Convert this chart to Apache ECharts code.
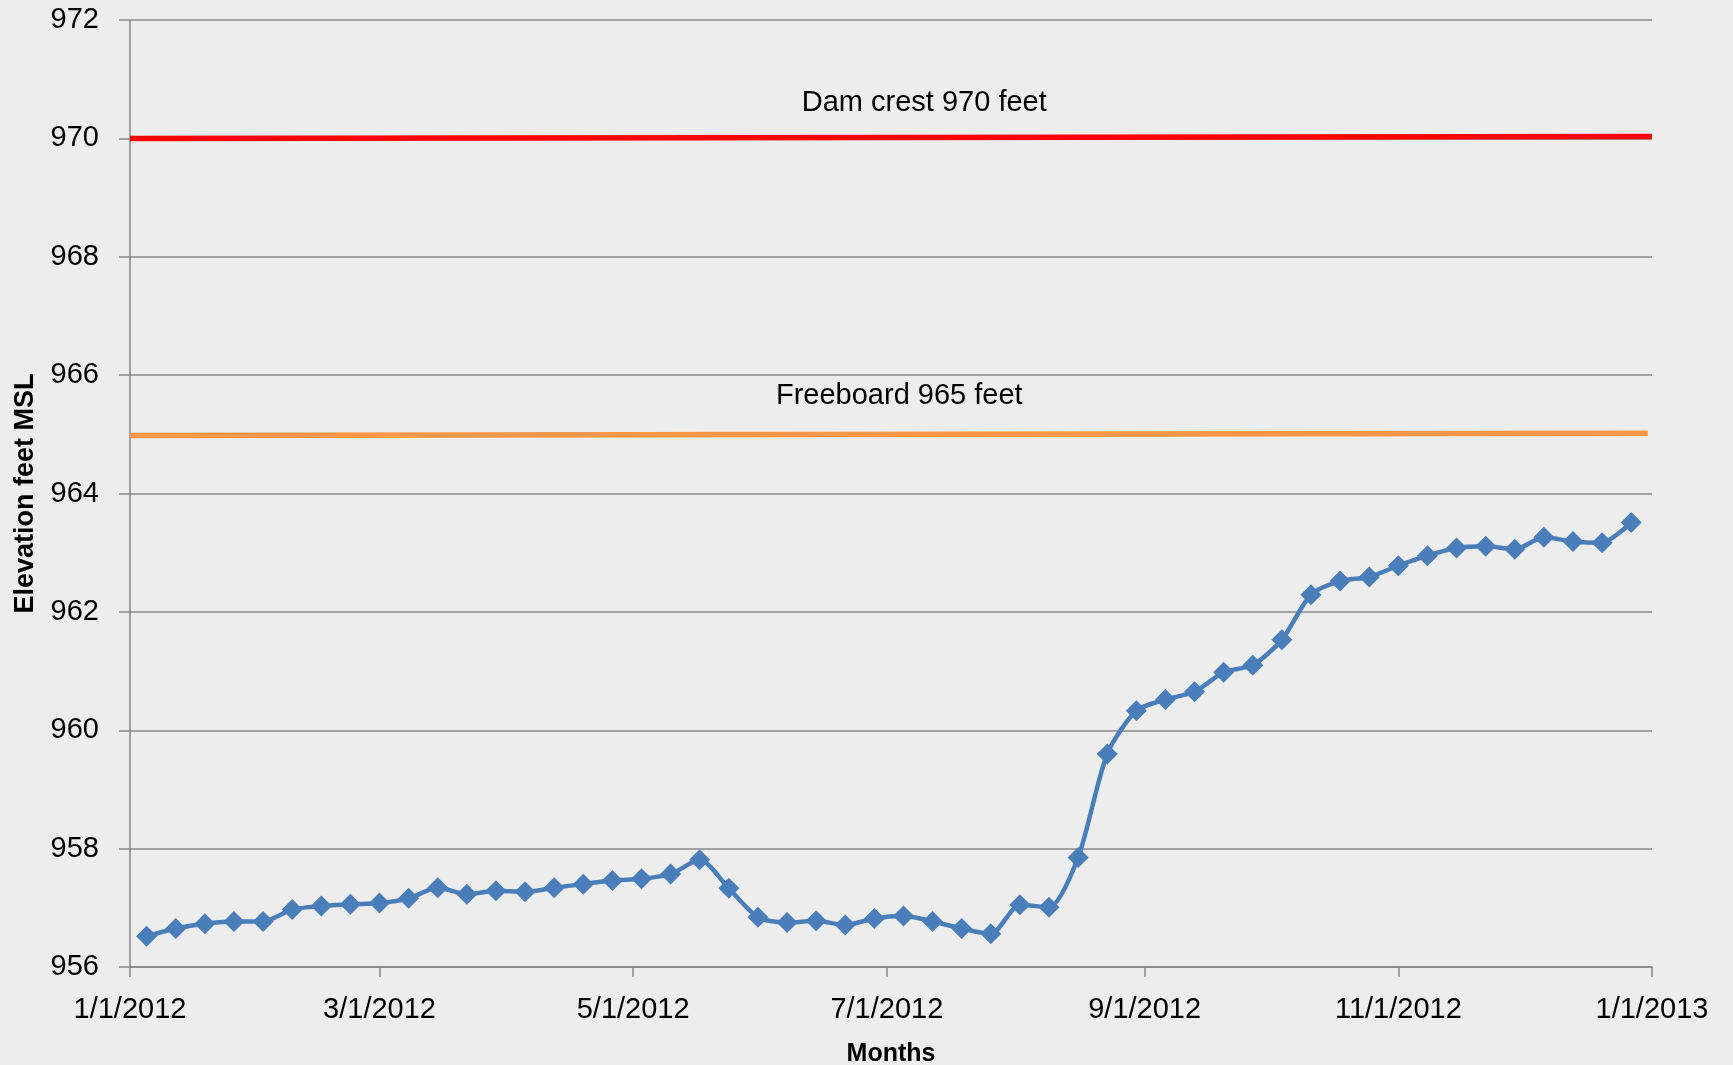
<!DOCTYPE html>
<html>
<head>
<meta charset="utf-8">
<script src="https://cdn.jsdelivr.net/npm/echarts@6/dist/echarts.min.js"></script>
<style>
  html, body { margin: 0; padding: 0; background: #ededed; }
  #chart { width: 1733px; height: 1065px; }
</style>
</head>
<body>
<div id="chart"></div>
<script>
// weekly reservoir readings
const weekDates = [
  '2012-01-05', '2012-01-12', '2012-01-19', '2012-01-26',
  '2012-02-02', '2012-02-09', '2012-02-16', '2012-02-23',
  '2012-03-01', '2012-03-08', '2012-03-15', '2012-03-22', '2012-03-29',
  '2012-04-05', '2012-04-12', '2012-04-19', '2012-04-26',
  '2012-05-03', '2012-05-10', '2012-05-17', '2012-05-24', '2012-05-31',
  '2012-06-07', '2012-06-14', '2012-06-21', '2012-06-28',
  '2012-07-05', '2012-07-12', '2012-07-19', '2012-07-26',
  '2012-08-02', '2012-08-09', '2012-08-16', '2012-08-23', '2012-08-30',
  '2012-09-06', '2012-09-13', '2012-09-20', '2012-09-27',
  '2012-10-04', '2012-10-11', '2012-10-18', '2012-10-25',
  '2012-11-01', '2012-11-08', '2012-11-15', '2012-11-22', '2012-11-29',
  '2012-12-06', '2012-12-13', '2012-12-20', '2012-12-27'
]
const elevation = [
  956.52, 956.65, 956.73, 956.77,
  956.77, 956.97, 957.03, 957.06,
  957.08, 957.16, 957.34, 957.23, 957.29,
  957.27, 957.34, 957.40, 957.46,
  957.49, 957.57, 957.81, 957.33, 956.84,
  956.75, 956.78, 956.71, 956.82,
  956.86, 956.77, 956.65, 956.56,
  957.05, 957.01, 957.85, 959.60, 960.33,
  960.52, 960.65, 960.98, 961.10,
  961.53, 962.29, 962.52, 962.59,
  962.78, 962.95, 963.08, 963.11, 963.06,
  963.26, 963.19, 963.17, 963.51
]
const crestDates = ['2012-01-01', '2013-01-01']
const crestLevel = [970.0, 970.03]
const freeboardDates = ['2012-01-01', '2012-12-31']
const freeboardLevel = [964.98, 965.02]
const tickDates = ['2012-01-01', '2012-03-01', '2012-05-01', '2012-07-01',
  '2012-09-01', '2012-11-01', '2013-01-01']

const FONT = "'Liberation Sans', Arial, sans-serif"
const GRID_GRAY = '#898989'

function toTime(s) {
  const p = s.split('-').map(Number)
  return new Date(p[0], p[1] - 1, p[2]).getTime()
}
function pairs(dates, vals) {
  return dates.map((d, i) => [toTime(d), vals[i]])
}
const ticks = tickDates.map(toTime)

const chart = echarts.init(document.getElementById('chart'), null, { renderer: 'canvas' })

const option = {
  backgroundColor: '#ededed',
  animation: false,
  grid: { left: 130, right: 81, top: 20, bottom: 98, outerBoundsMode: 'none' },
  xAxis: {
    type: 'value',
    min: ticks[0],
    max: ticks[ticks.length - 1],
    scale: true,
    name: 'Months',
    nameLocation: 'middle',
    nameGap: 75,
    nameTextStyle: { fontFamily: FONT, fontWeight: 'bold', fontSize: 25, color: '#000' },
    axisLine: { show: true, onZero: false, lineStyle: { color: '#868686', width: 1.5 } },
    axisTick: { show: true, length: 10, lineStyle: { color: '#868686', width: 1.5 }, customValues: ticks },
    splitLine: { show: false },
    axisLabel: {
      customValues: ticks,
      margin: 28,
      fontFamily: FONT,
      fontSize: 29,
      color: '#000',
      formatter: function (v) {
        const d = new Date(v)
        return (d.getMonth() + 1) + '/' + d.getDate() + '/' + d.getFullYear()
      }
    }
  },
  yAxis: {
    type: 'value',
    min: 956,
    max: 972,
    interval: 2,
    name: 'Elevation feet MSL',
    nameLocation: 'middle',
    nameGap: 91,
    nameTextStyle: { fontFamily: FONT, fontWeight: 'bold', fontSize: 27, color: '#000' },
    axisLine: { show: true, lineStyle: { color: '#868686', width: 1.5 } },
    axisTick: { show: true, length: 11, lineStyle: { color: '#868686', width: 1.5 } },
    splitLine: { show: true, lineStyle: { color: GRID_GRAY, width: 1.5 } },
    axisLabel: { margin: 31, fontFamily: FONT, fontSize: 29, color: '#000' }
  },
  series: [
    {
      name: 'Dam crest',
      type: 'line',
      data: pairs(crestDates, crestLevel),
      symbol: 'none',
      lineStyle: { color: '#ff0000', width: 5.5 },
      z: 3,
      markPoint: {
        symbol: 'rect',
        symbolSize: 0,
        data: [{ coord: [toTime('2012-07-10'), 970.60] }],
        label: {
          show: true, position: 'inside', formatter: 'Dam crest 970 feet',
          fontFamily: FONT, fontSize: 29, color: '#000'
        }
      }
    },
    {
      name: 'Freeboard',
      type: 'line',
      data: pairs(freeboardDates, freeboardLevel),
      symbol: 'none',
      lineStyle: { color: '#f79646', width: 5.5 },
      z: 3,
      markPoint: {
        symbol: 'rect',
        symbolSize: 0,
        data: [{ coord: [toTime('2012-07-04'), 965.64] }],
        label: {
          show: true, position: 'inside', formatter: 'Freeboard 965 feet',
          fontFamily: FONT, fontSize: 29, color: '#000'
        }
      }
    },
    {
      name: 'Elevation',
      type: 'line',
      data: pairs(weekDates, elevation),
      smooth: 0.25,
      symbol: 'diamond',
      symbolSize: 21,
      showSymbol: true,
      itemStyle: { color: '#4a7ebb' },
      lineStyle: { color: '#4a7ebb', width: 4.5 },
      z: 4
    }
  ]
}

chart.setOption(option)
</script>
</body>
</html>
